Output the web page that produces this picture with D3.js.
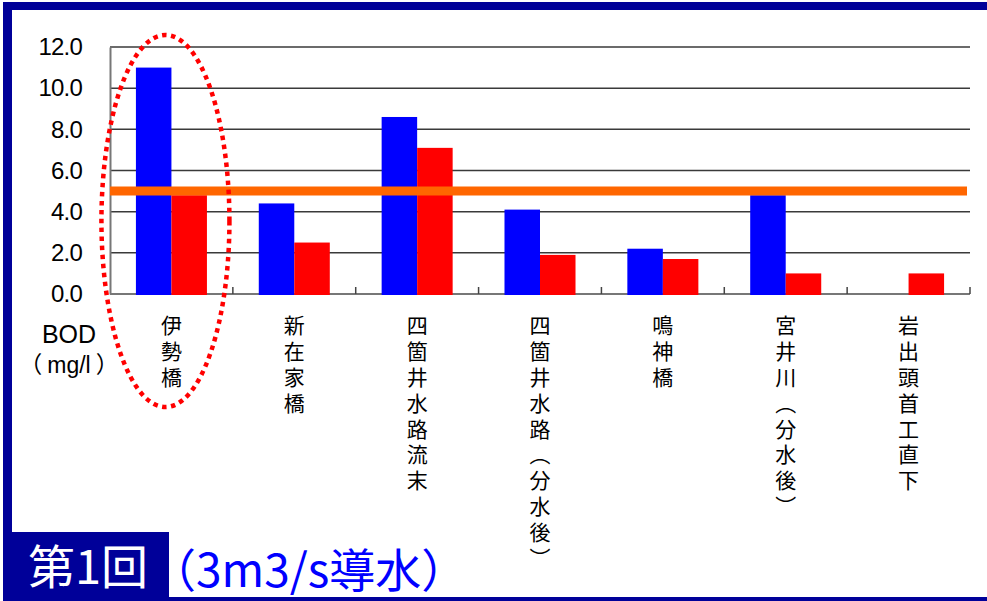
<!DOCTYPE html>
<html>
<head>
<meta charset="utf-8">
<script src="https://cdn.jsdelivr.net/npm/d3@7"></script>
<style>
    body { margin: 0; background: #fff; }
    svg { display: block; }
</style>
</head>
<body>
<div id="chart"></div>
<script>
// Sampling points and the two BOD series (mg/l)
const categories = ["伊勢橋", "新在家橋", "四箇井水路流末", "四箇井水路（分水後）", "鳴神橋", "宮井川（分水後）", "岩出頭首工直下"];
const seriesA = [11.0, 4.4, 8.6, 4.1, 2.2, 4.8, null]; // blue
const seriesB = [4.8, 2.5, 7.1, 1.9, 1.7, 1.0, 1.0];   // red
const yTicks = [0, 2, 4, 6, 8, 10, 12];
const standardValue = 5.0; // orange line
const highlighted = "伊勢橋"; // the circled point
const titleText = "第1回";
const subTitleText = "（3m3/s導水）";

const svgWidth = 987;
const svgHeight = 601;
const plotLeft = 110, plotRight = 970, plotTop = 47, plotBottom = 294;
const navy = "#000099";

let svg = d3.select("#chart")
            .append("svg")
            .attr("width", svgWidth)
            .attr("height", svgHeight);

// Frame round the slide
function add_frame(svg) {
    svg.append("rect").attr("x", 3).attr("y", 2).attr("width", 984).attr("height", 8).attr("fill", navy);
    svg.append("rect").attr("x", 3).attr("y", 2).attr("width", 9).attr("height", 599).attr("fill", navy);
    svg.append("rect").attr("x", 3).attr("y", 597).attr("width", 984).attr("height", 4).attr("fill", navy);
    svg.append("rect").attr("x", 3).attr("y", 532).attr("width", 166).attr("height", 69).attr("fill", navy);
}

let x = d3.scaleBand()
          .domain(categories)
          .range([plotLeft, plotRight]);
let x1 = d3.scaleBand()
           .domain(["a", "b"])
           .range([0, x.bandwidth()])
           .paddingOuter(0.73);
let y = d3.scaleLinear()
          .domain([0, 12])
          .range([plotBottom, plotTop]);

function add_grid(svg) {
    svg.append("g")
        .selectAll("line")
        .data(yTicks.filter(d => d > 0))
        .enter()
        .append("line")
            .attr("x1", plotLeft)
            .attr("x2", plotRight)
            .attr("y1", d => y(d))
            .attr("y2", d => y(d))
            .attr("stroke", "#3a3a3a")
            .attr("stroke-width", 1.5);
}

function add_axes(svg) {
    // y axis: only the line and the labels, no ticks
    let yAxis = d3.axisLeft(y)
                  .tickValues(yTicks)
                  .tickSize(0)
                  .tickPadding(28)
                  .tickFormat(d3.format(".1f"));
    let gy = svg.append("g")
                .attr("transform", `translate(${plotLeft},0)`)
                .call(yAxis);
    gy.select(".domain").attr("stroke", "#777").attr("stroke-width", 2);
    gy.selectAll("text")
        .attr("fill", "#000")
        .style("font-family", "'Liberation Sans', Arial, sans-serif")
        .style("font-size", "24px")
        .style("letter-spacing", "-0.8px");

    // x axis: ticks sit between categories and point up
    let boundaries = categories.map(c => x(c) + x.bandwidth());
    let gx = svg.append("g");
    gx.append("line")
        .attr("x1", plotLeft).attr("x2", plotRight)
        .attr("y1", plotBottom).attr("y2", plotBottom)
        .attr("stroke", "#777").attr("stroke-width", 2);
    gx.selectAll(".tick")
        .data(boundaries)
        .enter()
        .append("line")
            .attr("x1", d => d).attr("x2", d => d)
            .attr("y1", plotBottom).attr("y2", plotBottom - 7)
            .attr("stroke", "#444").attr("stroke-width", 1.5);
}

function add_bars(svg, values, key, color) {
    svg.append("g")
        .selectAll("rect")
        .data(categories.map((c, i) => ({cat: c, v: values[i]})).filter(d => d.v != null))
        .enter()
        .append("rect")
            .attr("x", d => x(d.cat) + x1(key))
            .attr("width", x1.bandwidth())
            .attr("y", d => y(d.v))
            .attr("height", d => y(0) - y(d.v) + 1)
            .attr("fill", color);
}

function add_labels(svg) {
    svg.append("g")
        .selectAll("text")
        .data(categories)
        .enter()
        .append("text")
            .attr("x", d => x(d) + x.bandwidth() / 2)
            .attr("y", 315)
            .style("writing-mode", "vertical-rl")
            .style("font-family", "'Noto Sans CJK JP', sans-serif")
            .style("font-size", "21px")
            .style("letter-spacing", "4.8px")
            .attr("fill", "#000")
            .text(d => d);

    // unit label under the y axis
    svg.append("text")
        .attr("x", 69).attr("y", 343)
        .attr("text-anchor", "middle")
        .style("font-family", "'Liberation Sans', Arial, sans-serif")
        .style("font-size", "25px")
        .text("BOD");
    let unit = svg.append("text")
        .attr("x", 69).attr("y", 373)
        .attr("text-anchor", "middle")
        .style("font-family", "'Liberation Sans', Arial, sans-serif")
        .style("font-size", "23px");
    // spread the full-width brackets a little, like the original font
    unit.append("tspan").style("font-family", "'Noto Sans CJK JP'").text("（");
    unit.append("tspan").attr("dx", 5).text("mg/l");
    unit.append("tspan").attr("dx", 5).style("font-family", "'Noto Sans CJK JP'").text("）");
}

function add_standard_line(svg) {
    svg.append("line")
        .attr("x1", plotLeft)
        .attr("x2", plotRight - 3)
        .attr("y1", y(standardValue))
        .attr("y2", y(standardValue))
        .attr("stroke", "#ff6600")
        .attr("stroke-width", 9);
}

function add_highlight(svg) {
    // dotted ellipse round the first point
    svg.append("ellipse")
        .attr("cx", x(highlighted) + x.bandwidth() / 2 - 6)
        .attr("cy", 221)
        .attr("rx", 64)
        .attr("ry", 186)
        .attr("fill", "none")
        .attr("stroke", "#ff0000")
        .attr("stroke-width", 4.5)
        .attr("stroke-dasharray", "4.5 4.5");
}

function add_title(svg) {
    svg.append("text")
        .attr("x", 88).attr("y", 584)
        .attr("text-anchor", "middle")
        .attr("fill", "#fff")
        .style("font-family", "'Noto Sans CJK JP', sans-serif")
        .style("font-size", "47px")
        .text(titleText);
    svg.append("text")
        .attr("x", 150).attr("y", 587)
        .attr("fill", "#0000ff")
        .style("font-family", "'Noto Sans CJK JP', sans-serif")
        .style("font-size", "46px")
        .text(subTitleText);
}

add_frame(svg);
add_grid(svg);
add_axes(svg);
add_bars(svg, seriesA, "a", "#0000ff");
add_bars(svg, seriesB, "b", "#ff0000");
add_standard_line(svg);
add_labels(svg);
add_highlight(svg);
add_title(svg);
</script>
</body>
</html>
